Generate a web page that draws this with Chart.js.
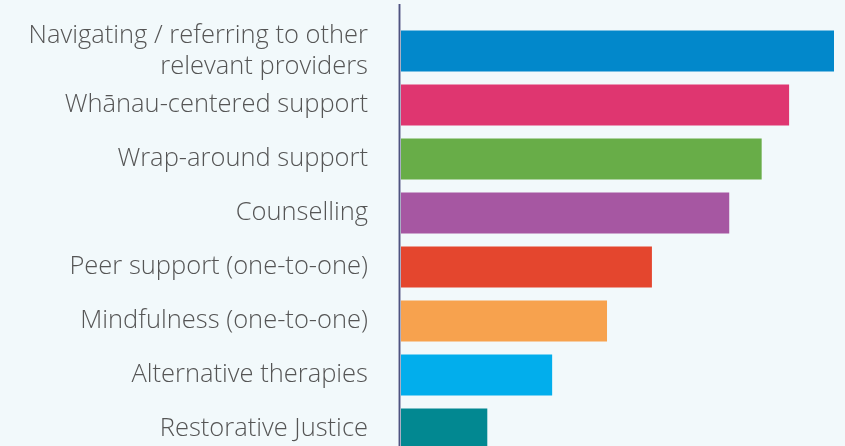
<!DOCTYPE html>
<html>
<head>
<meta charset="utf-8">
<script src="https://cdn.jsdelivr.net/npm/chart.js@4.4.1/dist/chart.umd.min.js"></script>
<style>
  html, body { margin: 0; padding: 0; background: #f2f9fb; overflow: hidden; }
  #wrap { width: 845px; height: 456px; position: relative; }
</style>
</head>
<body>
<div id="wrap"><canvas id="barChart"></canvas></div>
<script>
// categories, top to bottom
var services = [
  ["Navigating / referring to other", "relevant providers"],
  "Whānau-centered support",
  "Wrap-around support",
  "Counselling",
  "Peer support (one-to-one)",
  "Mindfulness (one-to-one)",
  "Alternative therapies",
  "Restorative Justice",
];
// (no scale shown in the original)
var responses = [87, 78, 72.5, 66, 50.5, 41.5, 30.5, 17.5];
var barColours = [
  "#0288cb",
  "#df3670",
  "#68ad48",
  "#a657a2",
  "#e4462e",
  "#f7a24e",
  "#02aeec",
  "#028891",
];

// draws the vertical axis line from near the top of the canvas down
var axisLine = {
  id: "axisLine",
  afterDraw: function (chart) {
    var ctx = chart.ctx;
    var x = chart.chartArea.left - 0.5;
    ctx.save();
    ctx.strokeStyle = "#c9ccdc";
    ctx.lineWidth = 3;
    ctx.beginPath();
    ctx.moveTo(x, 4);
    ctx.lineTo(x, chart.height);
    ctx.stroke();
    ctx.strokeStyle = "#4f5480";
    ctx.lineWidth = 1.5;
    ctx.beginPath();
    ctx.moveTo(x, 4);
    ctx.lineTo(x, chart.height);
    ctx.stroke();
    ctx.restore();
  },
};

var ctx = document.getElementById("barChart").getContext("2d");
var myChart = new Chart(ctx, {
  type: "bar",
  data: {
    labels: services,
    datasets: [
      {
        data: responses,
        backgroundColor: barColours,
        borderWidth: 0,
        barPercentage: 0.76,
        categoryPercentage: 1,
      },
    ],
  },
  options: {
    indexAxis: "y",
    responsive: true,
    maintainAspectRatio: false,
    animation: false,
    layout: { padding: { top: 24, right: 11, left: 0, bottom: 0 } },
    plugins: {
      legend: { display: false },
      tooltip: { enabled: false },
    },
    scales: {
      x: {
        display: false,
        min: 0,
        max: 87,
      },
      y: {
        grid: { display: false, drawTicks: false },
        border: { display: false },
        afterFit: function (scale) {
          scale.width = 400;
          scale.paddingTop = 0;
          scale.paddingBottom = 0;
        },
        ticks: {
          autoSkip: false,
          color: "#555555",
          padding: 32,
          font: { family: "Open Sans", weight: "300", size: 25.5, lineHeight: 1.22 },
        },
      },
    },
  },
  plugins: [axisLine],
});
</script>
</body>
</html>
